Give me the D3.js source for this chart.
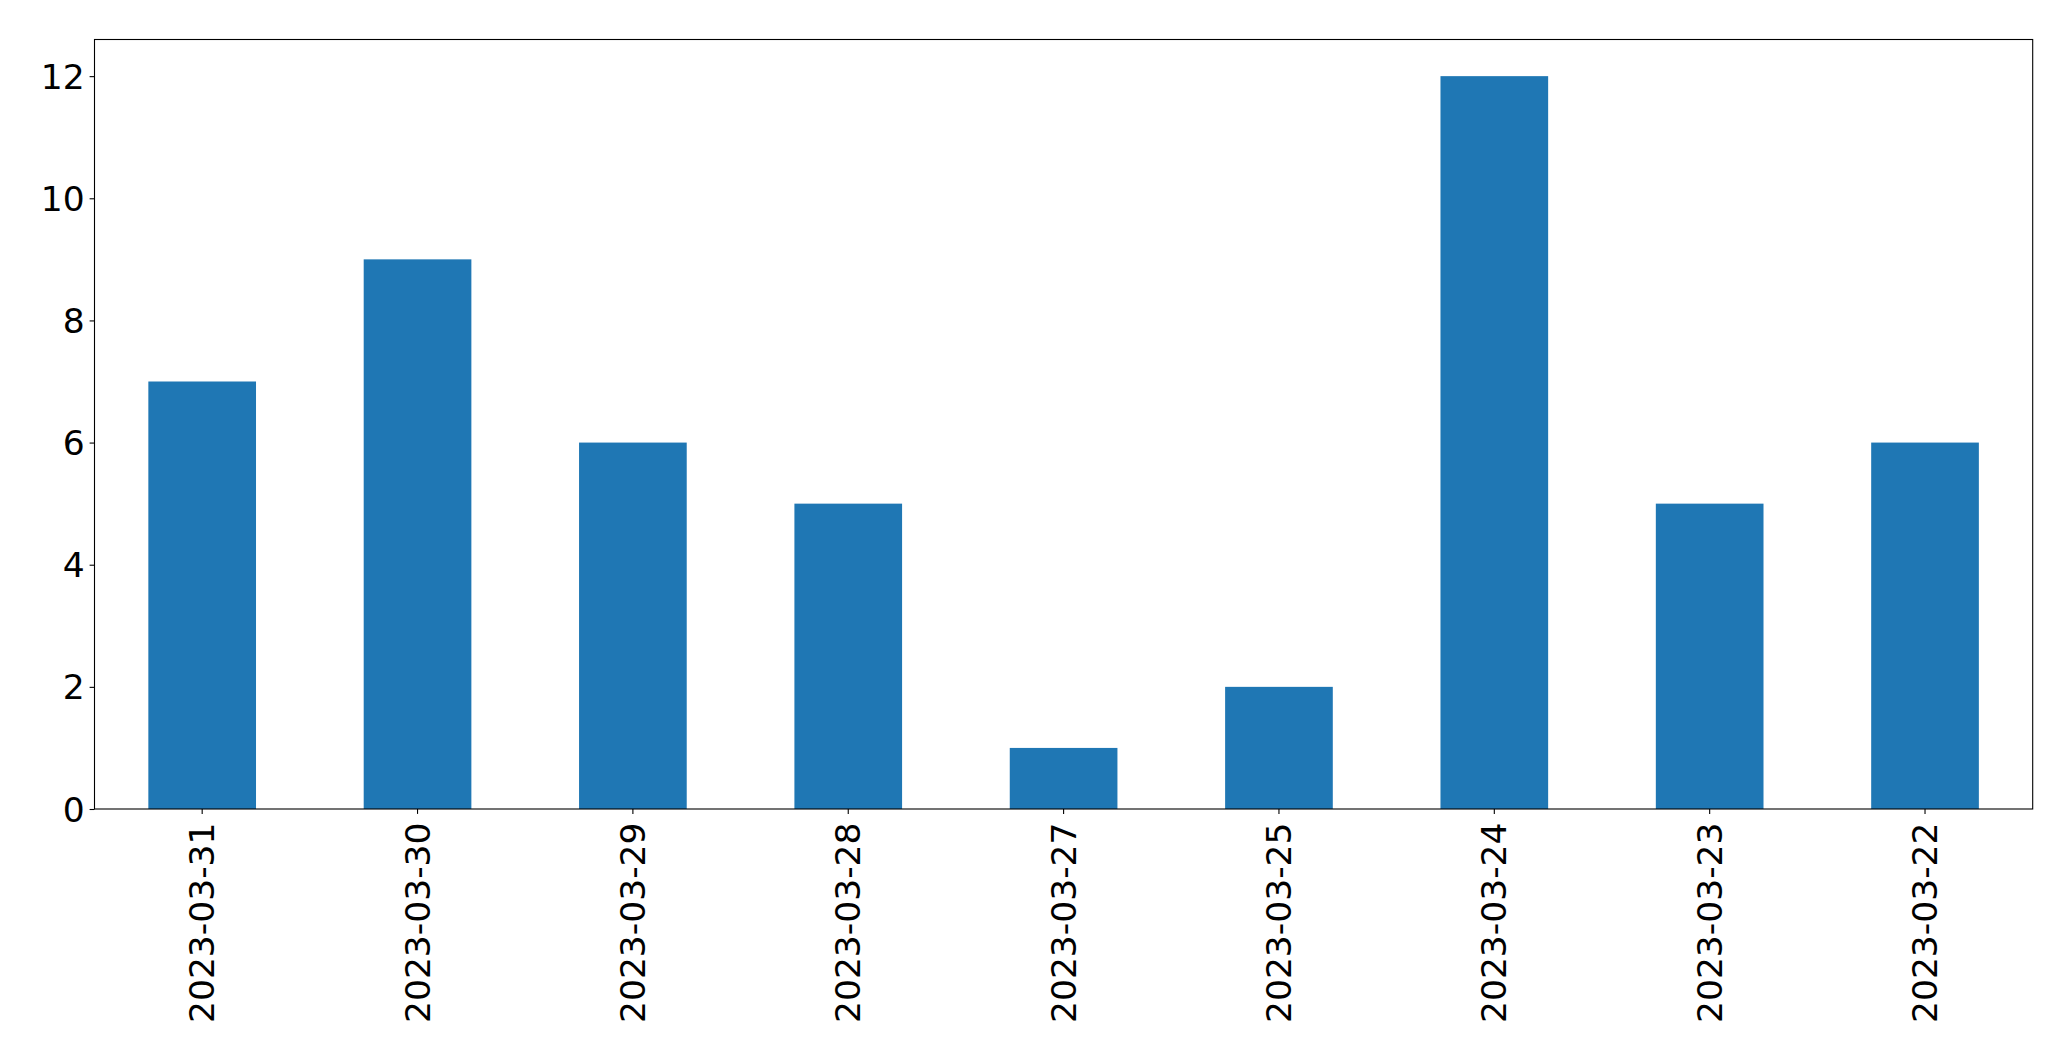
<!DOCTYPE html>
<html><head><meta charset="utf-8">
<script src="https://cdn.jsdelivr.net/npm/d3@7"></script>
<style>html,body{margin:0;padding:0;background:#fff;}</style>
</head><body>
<script>
const categories = ["2023-03-31","2023-03-30","2023-03-29","2023-03-28","2023-03-27","2023-03-25","2023-03-24","2023-03-23","2023-03-22"];
const values = [7,9,6,5,1,2,12,5,6];
const yTicks = [0,2,4,6,8,10,12];

const W = 2071, H = 1061;
const L = 94.5, R = 2032.7, T = 39.5, B = 809;
const svg = d3.select("body").append("svg").attr("width", W).attr("height", H);

const x = d3.scaleBand().domain(categories).range([L, R]).paddingInner(0.5).paddingOuter(0.25);
const y = d3.scaleLinear().domain([0, 12.6]).range([B, T]);

svg.append("g").selectAll("rect").data(values).join("rect")
  .attr("x", (d,i) => x(categories[i]))
  .attr("width", x.bandwidth())
  .attr("y", d => y(d))
  .attr("height", d => y(0) - y(d))
  .attr("fill", "#1f77b4");

const font = "'DejaVu Sans', sans-serif";
const fs = 34.5;
const yAxis = svg.append("g").attr("transform", `translate(${L},0)`)
  .call(d3.axisLeft(y).tickValues(yTicks).tickSize(4.9).tickPadding(4.9).tickFormat(d3.format("d")));
yAxis.select(".domain").remove();
yAxis.selectAll("line").attr("stroke", "#000").attr("stroke-width", 1.1);
yAxis.selectAll("text").attr("font-family", font).attr("font-size", fs).attr("fill", "#000").attr("dy", "0.35em");

const xAxis = svg.append("g").attr("transform", `translate(0,${B})`)
  .call(d3.axisBottom(x).tickSize(4.9).tickPadding(0));
xAxis.select(".domain").remove();
xAxis.selectAll("line").attr("stroke", "#000").attr("stroke-width", 1.1);
xAxis.selectAll("text")
  .attr("font-family", font).attr("font-size", fs).attr("fill", "#000")
  .attr("text-anchor", "end")
  .attr("transform", "translate(0,13.5) rotate(-90)")
  .attr("x", 0).attr("y", 0).attr("dy", "0.35em");

svg.append("rect").attr("x", L).attr("y", T).attr("width", R - L).attr("height", B - T)
  .attr("fill", "none").attr("stroke", "#000").attr("stroke-width", 1.1);
</script>
</body></html>
